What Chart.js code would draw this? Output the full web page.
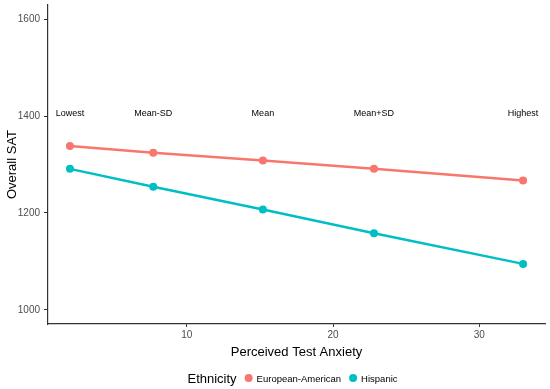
<!DOCTYPE html>
<html>
<head>
<meta charset="utf-8">
<script src="https://cdn.jsdelivr.net/npm/chart.js@4/dist/chart.umd.min.js"></script>
<style>
  html, body { margin: 0; padding: 0; background: #fff; }
  #wrap { width: 550px; height: 389px; }
</style>
</head>
<body>
<div id="wrap"><canvas id="satChart" width="550" height="389"></canvas></div>
<script>
// anxiety levels (x) and SAT predictions per group
const levelNames = ["Lowest", "Mean-SD", "Mean", "Mean+SD", "Highest"];
const anxiety = [2.0, 7.7, 15.2, 22.8, 33.0];
const europeanAmerican = [1338, 1324, 1308, 1291, 1267];
const hispanic = [1291, 1254, 1207, 1158, 1095];
const labelLevel = 1406;
const xTicks = [10, 20, 30];
const yTicks = [1000, 1200, 1400, 1600];

const RED = "#F8766D";
const TEAL = "#00BFC4";

function toPoints(ys) {
    return anxiety.map((x, i) => ({ x: x, y: ys[i] }));
}

const levelLabels = {
    id: "levelLabels",
    afterDatasetsDraw(chart) {
        const ctx = chart.ctx;
        const xs = chart.scales.x, ys = chart.scales.y;
        ctx.save();
        ctx.fillStyle = "#000";
        ctx.font = "9px 'Liberation Sans', Arial, sans-serif";
        ctx.textAlign = "center";
        ctx.textBaseline = "middle";
        levelNames.forEach((name, i) => {
            ctx.fillText(name, xs.getPixelForValue(anxiety[i]), ys.getPixelForValue(labelLevel));
        });
        ctx.restore();
    }
};

const ggLegend = {
    id: "ggLegend",
    afterDraw(chart) {
        const ctx = chart.ctx;
        const area = chart.chartArea;
        const cx = (area.left + area.right) / 2;
        const y = 378;
        ctx.save();
        ctx.textBaseline = "middle";
        ctx.textAlign = "left";
        ctx.font = "13px 'Liberation Sans', Arial, sans-serif";
        const title = "Ethnicity";
        const items = chart.data.datasets.map((d) => ({ text: d.label, color: d.borderColor }));
        const titleW = ctx.measureText(title).width;
        ctx.font = "9.5px 'Liberation Sans', Arial, sans-serif";
        let total = titleW + 8;
        items.forEach((it) => { it.w = ctx.measureText(it.text).width; total += 8 + 4 + it.w + 8; });
        let x = cx - total / 2;
        ctx.font = "13px 'Liberation Sans', Arial, sans-serif";
        ctx.fillStyle = "#000";
        ctx.fillText(title, x, y + 1);
        x += titleW + 8;
        ctx.font = "9.5px 'Liberation Sans', Arial, sans-serif";
        items.forEach((it) => {
            ctx.fillStyle = it.color;
            ctx.beginPath();
            ctx.arc(x + 4, y, 4, 0, Math.PI * 2);
            ctx.fill();
            x += 12;
            ctx.fillStyle = "#000";
            ctx.fillText(it.text, x, y + 1);
            x += it.w + 8;
        });
        ctx.restore();
    }
};

function makeChart() {
    const ctx = document.getElementById("satChart").getContext("2d");

    new Chart(ctx, {
        type: "line",
        data: {
            datasets: [{
                label: "European-American",
                data: toPoints(europeanAmerican),
                borderColor: RED,
                backgroundColor: RED,
                borderWidth: 2.5,
                pointRadius: 4,
                pointBorderWidth: 0,
                tension: 0
            }, {
                label: "Hispanic",
                data: toPoints(hispanic),
                borderColor: TEAL,
                backgroundColor: TEAL,
                borderWidth: 2.5,
                pointRadius: 4,
                pointBorderWidth: 0,
                tension: 0
            }]
        },
        options: {
            responsive: false,
            animation: false,
            layout: { padding: { top: 5, right: 5, bottom: 29, left: 0 } },
            plugins: {
                legend: { display: false },
                tooltip: { enabled: false }
            },
            scales: {
                x: {
                    type: "linear",
                    min: 0.5,
                    max: 34.5,
                    afterBuildTicks: (scale) => { scale.ticks = xTicks.map((v) => ({ value: v })); },
                    afterFit: (scale) => { scale.height = 36; },
                    grid: { drawOnChartArea: false, drawTicks: true, tickLength: 3, color: "#333" },
                    border: { display: true, color: "#333", width: 1.2 },
                    ticks: { color: "#4d4d4d", font: { family: "'Liberation Sans', Arial, sans-serif", size: 10 }, padding: 2, callback: (v) => String(v) },
                    title: {
                        display: true,
                        text: "Perceived Test Anxiety",
                        color: "#000",
                        font: { family: "'Liberation Sans', Arial, sans-serif", size: 13 },
                        padding: { top: 1, bottom: 0 }
                    }
                },
                y: {
                    min: 971,
                    max: 1629,
                    afterBuildTicks: (scale) => { scale.ticks = yTicks.map((v) => ({ value: v })); },
                    afterFit: (scale) => { scale.width = 48; scale.paddingTop = 0; scale.paddingBottom = 0; },
                    grid: { drawOnChartArea: false, drawTicks: true, tickLength: 4, color: "#333" },
                    border: { display: true, color: "#333", width: 1.2 },
                    ticks: { color: "#4d4d4d", font: { family: "'Liberation Sans', Arial, sans-serif", size: 10 }, padding: 4, callback: (v) => String(v) },
                    title: {
                        display: true,
                        text: "Overall SAT",
                        color: "#000",
                        font: { family: "'Liberation Sans', Arial, sans-serif", size: 13 },
                        padding: { top: 5, bottom: 0 }
                    }
                }
            }
        },
        plugins: [levelLabels, ggLegend]
    });
}

document.addEventListener("DOMContentLoaded", makeChart);
</script>
</body>
</html>
